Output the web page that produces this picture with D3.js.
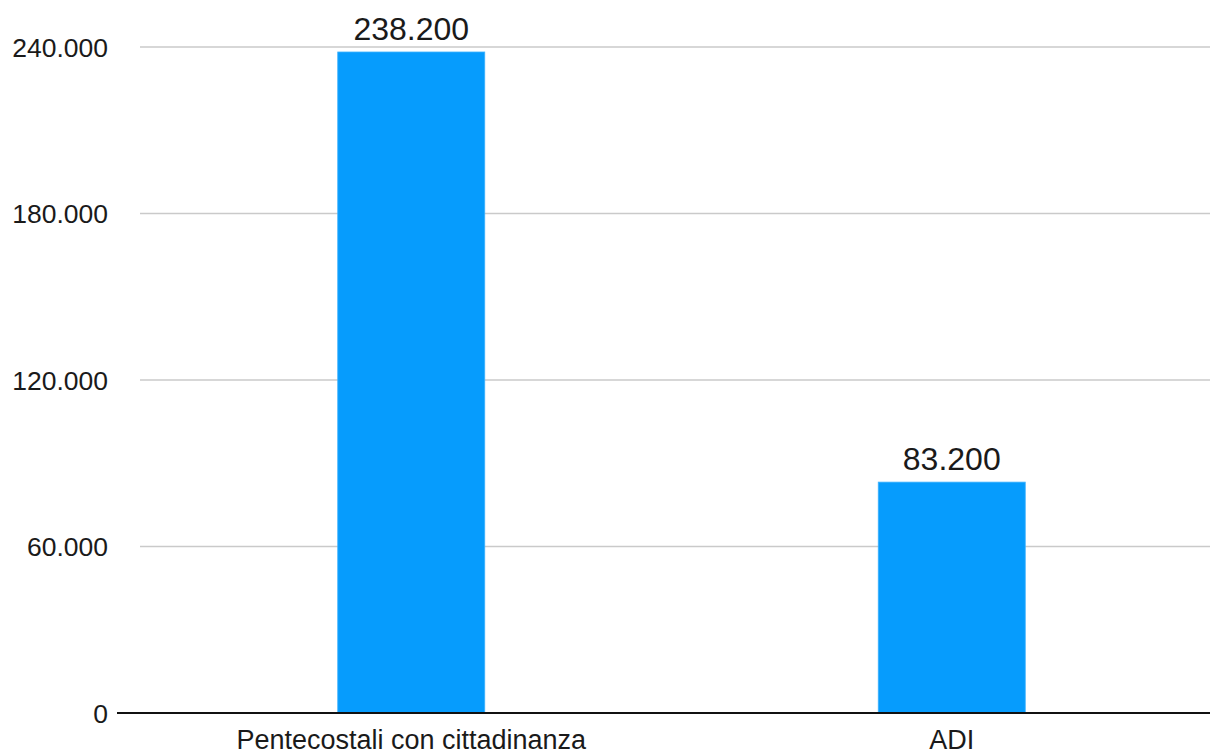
<!DOCTYPE html>
<meta charset='utf-8'>
<html>
<head>
    <script src='https://d3js.org/d3.v7.min.js'></script>
    <style>
        html, body { margin: 0; padding: 0; background: #fff; }
        svg { display: block; }
        text { font-family: 'Liberation Sans', Arial, Helvetica, sans-serif; fill: #1a1a1a; }
    </style>
</head>
<body>
<script>
    // chart data
    const categories = ['Pentecostali con cittadinanza', 'ADI'];
    const values = [238200, 83200];
    const yTicks = [0, 60000, 120000, 180000, 240000];

    const width = 1210;
    const height = 754;
    const baseY = 713;
    const topY = 47;
    const gridLeft = 140;
    const gridRight = 1210;

    const svg = d3.select('body')
        .append('svg')
        .attr('width', width)
        .attr('height', height);

    const y = d3.scaleLinear()
        .domain([0, 240000])
        .range([baseY, topY]);

    const x = d3.scaleBand()
        .domain(categories)
        .range([141, 1222])
        .padding(0);

    const barWidth = x.bandwidth() * 0.272;

    // italian thousands separator
    const fmt = d3.formatLocale({ decimal: ',', thousands: '.', grouping: [3], currency: ['€', ''] }).format(',d');

    // gridlines
    svg.append('g')
        .selectAll('line')
        .data(yTicks.filter(d => d > 0))
        .enter()
        .append('line')
        .attr('x1', gridLeft)
        .attr('x2', gridRight)
        .attr('y1', d => y(d))
        .attr('y2', d => y(d))
        .style('stroke', '#cacaca')
        .style('stroke-width', 1.5);

    // y labels
    svg.append('g')
        .selectAll('text')
        .data(yTicks)
        .enter()
        .append('text')
        .attr('x', 108)
        .attr('y', d => y(d))
        .attr('dy', '0.36em')
        .attr('text-anchor', 'end')
        .style('font-size', '26.5px')
        .text(d => fmt(d));

    // bars
    svg.append('g')
        .selectAll('rect')
        .data(values)
        .enter()
        .append('rect')
        .attr('x', (d, i) => x(categories[i]) + x.bandwidth() / 2 - barWidth / 2)
        .attr('y', d => y(d))
        .attr('width', barWidth)
        .attr('height', d => baseY - y(d))
        .style('fill', '#069cfd')
        .style('stroke', '#3fb2fd')
        .style('stroke-width', 0.8);

    // value labels
    svg.append('g')
        .selectAll('text')
        .data(values)
        .enter()
        .append('text')
        .attr('x', (d, i) => x(categories[i]) + x.bandwidth() / 2)
        .attr('y', d => y(d) - 12)
        .attr('text-anchor', 'middle')
        .style('font-size', '32px')
        .text(d => fmt(d));

    // baseline
    svg.append('line')
        .attr('x1', 117)
        .attr('x2', gridRight)
        .attr('y1', baseY)
        .attr('y2', baseY)
        .style('stroke', '#111')
        .style('stroke-width', 2.2);

    // category labels
    svg.append('g')
        .selectAll('text')
        .data(categories)
        .enter()
        .append('text')
        .attr('x', d => x(d) + x.bandwidth() / 2)
        .attr('y', 749)
        .attr('text-anchor', 'middle')
        .style('font-size', '27px')
        .text(d => d);
</script>
</body>
</html>
